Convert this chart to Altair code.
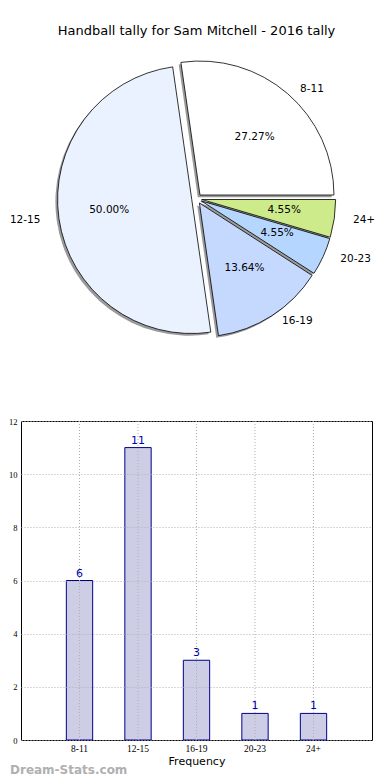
import altair as alt
import pandas as pd

# ---- data ----
categories = ["8-11", "12-15", "16-19", "20-23", "24+"]
counts = [6, 11, 3, 1, 1]
slice_colors = ["#ffffff", "#eaf2ff", "#c5d9ff", "#b5d7ff", "#cdeb8b"]
y_ticks = [0, 2, 4, 6, 8, 10, 12]
title_text = "Handball tally for Sam Mitchell - 2016 tally"
watermark = ["Dream-Stats.com"]

# ---- layout (pixels) ----
PW, PH = 351, 353        # pie panel
BW, BH = 351, 319        # bar panel
CX, CY = 175.7, 150.8    # pie centre inside the pie panel
R = 134                  # pie radius
RX, RY = 139, 128        # text placement radii (reference pie is slightly oval)
E = 5                    # explode distance
SH = 2.2                 # shadow offset
FONT = "DejaVu Sans"
NARROW = "Liberation Sans Narrow"

df = pd.DataFrame({"cat": categories, "count": counts, "idx": list(range(len(categories)))})

pie_base = (
    alt.Chart(df)
    .transform_window(cum="sum(count)", sort=[alt.SortField("idx")], frame=[None, 0])
    .transform_joinaggregate(total="sum(count)")
    .transform_calculate(
        a0="2*PI*(datum.cum-datum.count)/datum.total",
        a1="2*PI*datum.cum/datum.total",
    )
    .transform_calculate(
        mid="(datum.a0+datum.a1)/2",
        t0="PI/2 - datum.a1",
        t1="PI/2 - datum.a0",
    )
    .transform_calculate(
        cx=f"{CX} + {E}*cos(datum.mid)",
        cy=f"{CY} - {E}*sin(datum.mid)",
    )
    .transform_calculate(
        sx=f"datum.cx - {SH}",
        sy=f"datum.cy + {SH}",
        lx=f"datum.cx + {1.1 * RX}*cos(datum.mid)",
        ly=f"datum.cy - {1.1 * RY}*sin(datum.mid)",
        px=f"datum.cx + {0.6 * RX}*cos(datum.mid)",
        py=f"datum.cy - {0.6 * RY}*sin(datum.mid)",
        pct="format(100*datum.count/datum.total, '.2f') + '%'",
        side="cos(datum.mid) >= 0 ? 'right' : 'left'",
    )
)

shadow = pie_base.mark_arc(radius=R, fill="#888888", opacity=0.85).encode(
    x=alt.X("sx:Q", scale=None),
    y=alt.Y("sy:Q", scale=None),
    theta=alt.Theta("t0:Q", scale=None),
    theta2=alt.Theta2("t1:Q"),
)

slices = pie_base.mark_arc(radius=R, stroke="#000000", strokeWidth=0.8).encode(
    x=alt.X("cx:Q", scale=None),
    y=alt.Y("cy:Q", scale=None),
    theta=alt.Theta("t0:Q", scale=None),
    theta2=alt.Theta2("t1:Q"),
    color=alt.Color("cat:N", scale=alt.Scale(domain=categories, range=slice_colors), legend=None),
)

lab_right = pie_base.transform_filter("datum.side == 'right'").mark_text(
    align="left", baseline="middle", fontSize=10.5, font=FONT, color="#000000"
).encode(x=alt.X("lx:Q", scale=None), y=alt.Y("ly:Q", scale=None), text="cat:N")

lab_left = pie_base.transform_filter("datum.side == 'left'").mark_text(
    align="right", baseline="middle", fontSize=10.5, font=FONT, color="#000000"
).encode(x=alt.X("lx:Q", scale=None), y=alt.Y("ly:Q", scale=None), text="cat:N")

pct_labels = pie_base.mark_text(
    align="center", baseline="middle", fontSize=10.5, font=FONT, color="#000000"
).encode(x=alt.X("px:Q", scale=None), y=alt.Y("py:Q", scale=None), text="pct:N")

pie = alt.layer(shadow, slices, lab_right, lab_left, pct_labels).properties(
    width=PW, height=PH, view=alt.ViewBackground(stroke=None)
)

# ---- bar chart ----
xscale = alt.Scale(domain=categories, paddingInner=0, paddingOuter=0.5)
yscale = alt.Scale(domain=[0, 12], nice=False)

bar_base = alt.Chart(df)

bars = bar_base.mark_bar(
    width=alt.RelativeBandSize(0.45), fill="#cdcde6", stroke="#00008b", strokeWidth=1
).encode(
    x=alt.X(
        "cat:N", scale=xscale, sort=categories,
        axis=alt.Axis(
            title="Frequency", labelAngle=0, ticks=False, grid=False, domain=False,
            labelFontSize=9.5, labelColor="#000000", labelFont=NARROW,
            titleFontSize=11, titleFontWeight="normal", titleColor="#000000", titleFont=FONT,
            labelPadding=3, titlePadding=3,
        ),
    ),
    y=alt.Y(
        "count:Q", scale=yscale,
        axis=alt.Axis(
            values=y_ticks, title=None, ticks=False, grid=True, domain=False, zindex=1,
            gridColor="#b0b0b0", gridDash=[1, 2], gridWidth=1,
            labelFontSize=8.5, labelColor="#000000", labelPadding=4, labelFont=NARROW,
        ),
    ),
)

vgrid = bar_base.mark_rule(color="#b0b0b0", strokeDash=[1, 2], strokeWidth=1).encode(
    x=alt.X("cat:N", scale=xscale, sort=categories),
)

bar_text = bar_base.mark_text(
    dy=-7, fontSize=11, font=FONT, color="#0000aa", baseline="middle"
).encode(
    x=alt.X("cat:N", scale=xscale, sort=categories),
    y=alt.Y("count:Q", scale=yscale),
    text="count:Q",
)

wm = alt.Chart(pd.DataFrame({"t": watermark})).mark_text(
    align="left", baseline="middle", fontSize=12, fontWeight="bold", font=FONT, color="#b0b0b0"
).encode(x=alt.value(-11), y=alt.value(BH + 30), text="t:N")

bar = alt.layer(bars, vgrid, bar_text, wm).properties(
    width=BW, height=BH, view=alt.ViewBackground(stroke="#000000", strokeWidth=1)
)

chart = (
    alt.vconcat(pie, bar, spacing=20, bounds="flush")
    .properties(
        title=alt.TitleParams(
            title_text, fontSize=13, font=FONT, fontWeight="normal",
            anchor="middle", color="#000000", offset=10, frame="group",
        ),
        padding={"left": 0, "top": 17, "right": 0, "bottom": 0},
    )
    .configure(font=FONT)
)

chart.save("out.html", embed_options={"renderer": "svg", "actions": False})
